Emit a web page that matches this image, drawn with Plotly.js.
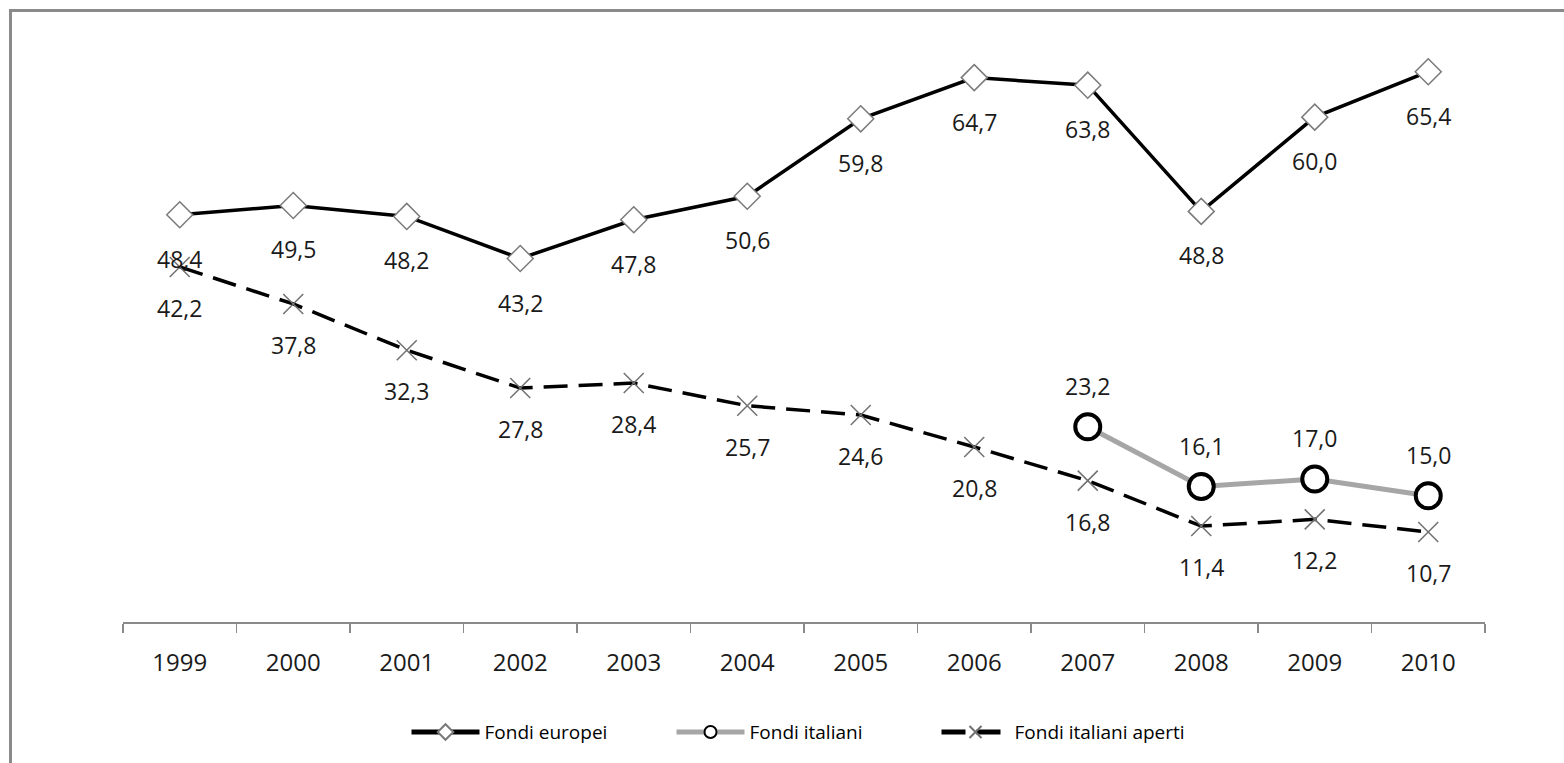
<!DOCTYPE html>
<html>
<head>
<meta charset="utf-8">
<script src="https://cdn.plot.ly/plotly-3.0.1.min.js"></script>
<style>
  html, body { margin: 0; padding: 0; background: #fff; }
  #chart { width: 1564px; height: 763px; }
  /* frame around the chart area (top and left edges visible) */
  #frame {
    position: absolute; left: 9px; top: 9px; width: 1600px; height: 800px;
    border-left: 3px solid #8a8a8a; border-top: 3px solid #8a8a8a;
    pointer-events: none; box-sizing: border-box;
  }
</style>
</head>
<body>
<div id="chart"></div>
<div id="frame"></div>
<script>
// Years on the category axis
const years = ['1999','2000','2001','2002','2003','2004','2005','2006','2007','2008','2009','2010'];

// Series values (percent)
const fondiEuropei = [48.4, 49.5, 48.2, 43.2, 47.8, 50.6, 59.8, 64.7, 63.8, 48.8, 60.0, 65.4];
const fondiItaliani = [null, null, null, null, null, null, null, null, 23.2, 16.1, 17.0, 15.0];
const fondiItalianiAperti = [42.2, 37.8, 32.3, 27.8, 28.4, 25.7, 24.6, 20.8, 16.8, 11.4, 12.2, 10.7];

// Italian-style decimal comma for the value labels
const fmt = v => v.toFixed(1).replace('.', ',');

const labelFont = { family: 'Open Sans, sans-serif', size: 23, color: '#1a1a1a' };

// Value labels; on a category axis annotations take the category index
function labelsFor(values, shift) {
  const out = [];
  values.forEach((v, i) => {
    if (v === null) return;
    out.push({
      x: i, y: v, xref: 'x', yref: 'y',
      text: fmt(v), showarrow: false, yshift: shift,
      font: labelFont
    });
  });
  return out;
}

const traces = [
  {
    name: 'Fondi europei', x: years, y: fondiEuropei,
    type: 'scatter', mode: 'lines+markers',
    line: { color: '#000000', width: 3.5 },
    marker: { symbol: 'diamond', size: 20, color: '#ffffff',
              line: { color: '#7a7a7a', width: 1.5 } }
  },
  {
    name: 'Fondi italiani', x: years, y: fondiItaliani,
    type: 'scatter', mode: 'lines+markers',
    line: { color: '#a6a6a6', width: 5 },
    marker: { symbol: 'circle', size: 25, color: '#ffffff',
              line: { color: '#000000', width: 4 } }
  },
  {
    name: 'Fondi italiani aperti', x: years, y: fondiItalianiAperti,
    type: 'scatter', mode: 'lines+markers',
    line: { color: '#000000', width: 3.5, dash: '24px,11px' },
    marker: { symbol: 'x-thin-open', size: 20, color: '#707070',
              line: { color: '#707070', width: 1.5 } }
  }
];

const layout = {
  width: 1564, height: 763,
  margin: { l: 123, r: 79, t: 33, b: 141 },
  paper_bgcolor: '#ffffff', plot_bgcolor: '#ffffff',
  showlegend: true,
  legend: {
    orientation: 'h', x: 0.5, xanchor: 'center', y: -0.187, yanchor: 'middle',
    font: { family: 'Open Sans, sans-serif', size: 19, color: '#000000' },
    itemwidth: 68, itemsizing: 'constant', traceorder: 'normal',
    entrywidth: 182, entrywidthmode: 'pixels'
  },
  xaxis: {
    type: 'category', range: [-0.5, 11.5],
    showgrid: false, zeroline: false,
    showline: true, linecolor: '#8a8a8a', linewidth: 1.5,
    ticks: 'outside', tickson: 'boundaries', ticklen: 9, tickcolor: '#8a8a8a', tickwidth: 1.5,
    ticklabelstandoff: 19,
    tickfont: { family: 'Open Sans, sans-serif', size: 24, color: '#1a1a1a' },
    fixedrange: true
  },
  yaxis: {
    range: [0, 70], visible: false, showgrid: false, zeroline: false, fixedrange: true
  },
  annotations: [].concat(
    labelsFor(fondiEuropei, -44),
    labelsFor(fondiItaliani, 41),
    labelsFor(fondiItalianiAperti, -41)
  )
};

Plotly.newPlot('chart', traces, layout, { displayModeBar: false, staticPlot: true });
</script>
</body>
</html>
